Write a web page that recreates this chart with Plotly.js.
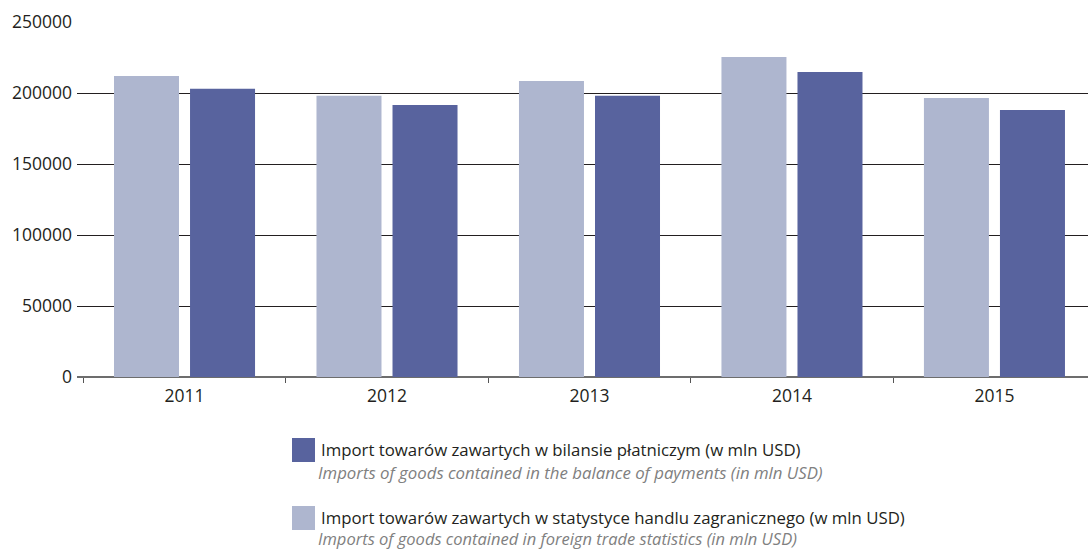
<!DOCTYPE html>
<html>
<head>
<meta charset="utf-8">
<script src="https://cdn.plot.ly/plotly-3.0.1.min.js"></script>
<style>html,body{margin:0;padding:0;background:#fff;}#chart{width:1088px;height:550px;}</style>
</head>
<body>
<div id="chart"></div>
<script>
const years = ['2011', '2012', '2013', '2014', '2015'];
const tradeStats = [212000, 198000, 208500, 225400, 196500];
const balancePayments = [203000, 191600, 198000, 214800, 188100];
const yTicks = [0, 50000, 100000, 150000, 200000, 250000];
const seriesBalancePL = 'Import towarów zawartych w bilansie płatniczym (w mln USD)';
const seriesBalanceEN = 'Imports of goods contained in the balance of payments (in mln USD)';
const seriesTradePL = 'Import towarów zawartych w statystyce handlu zagranicznego (w mln USD)';
const seriesTradeEN = 'Imports of goods contained in foreign trade statistics (in mln USD)';

const lightColor = '#aeb6cf';
const darkColor = '#58639e';
const font = 'Open Sans, Noto Sans, sans-serif';

const traces = [
  {type: 'bar', x: years, y: tradeStats, name: seriesTradePL, marker: {color: lightColor}, showlegend: false},
  {type: 'bar', x: years, y: balancePayments, name: seriesBalancePL, marker: {color: darkColor}, showlegend: false}
];

const layout = {
  width: 1088, height: 550,
  margin: {l: 77, r: 0, t: 22, b: 173},
  paper_bgcolor: '#fff', plot_bgcolor: '#fff',
  barmode: 'group', bargap: 0.249, bargroupgap: 0.145,
  font: {family: font, size: 17.5, color: '#231f20'},
  xaxis: {
    type: 'category', range: [-0.531, 4.462],
    tickson: 'boundaries', ticks: 'outside', ticklen: 5, tickcolor: '#555', tickwidth: 1,
    ticklabelstandoff: 6,
    showgrid: false, showline: false, zeroline: false,
    tickfont: {family: font, size: 17.5, color: '#231f20'}
  },
  yaxis: {
    range: [0, 250000], tickvals: yTicks, ticktext: yTicks.map(String),
    showgrid: true, gridcolor: '#231f20', gridwidth: 1,
    zeroline: true, zerolinecolor: '#6d6d6d', zerolinewidth: 1.5,
    showline: false, ticks: '', ticklabelstandoff: 4,
    tickfont: {family: font, size: 17.5, color: '#231f20'}
  },
  shapes: [
    {type: 'line', xref: 'paper', yref: 'y', x0: 0, x1: 0, y0: 0, y1: 0,
     ysizemode: 'pixel', yanchor: 0, line: {color: '#555', width: 1}},
    {type: 'rect', xref: 'paper', yref: 'paper', xsizemode: 'pixel', ysizemode: 'pixel',
     xanchor: 0, yanchor: 0, x0: 215, x1: 238, y0: -61, y1: -85,
     fillcolor: darkColor, line: {width: 0}},
    {type: 'rect', xref: 'paper', yref: 'paper', xsizemode: 'pixel', ysizemode: 'pixel',
     xanchor: 0, yanchor: 0, x0: 215, x1: 238, y0: -129, y1: -153,
     fillcolor: lightColor, line: {width: 0}}
  ],
  annotations: [
    {xref: 'paper', yref: 'paper', x: 0, y: 0, xshift: 242, yshift: -72, xanchor: 'left', yanchor: 'middle',
     showarrow: false, text: seriesBalancePL, font: {family: font, size: 16.8, color: '#231f20'}},
    {xref: 'paper', yref: 'paper', x: 0, y: 0, xshift: 239, yshift: -95, xanchor: 'left', yanchor: 'middle',
     showarrow: false, text: '<i>' + seriesBalanceEN + '</i>', font: {family: font, size: 16.8, color: '#808080'}},
    {xref: 'paper', yref: 'paper', x: 0, y: 0, xshift: 242, yshift: -140, xanchor: 'left', yanchor: 'middle',
     showarrow: false, text: seriesTradePL, font: {family: font, size: 16.8, color: '#231f20'}},
    {xref: 'paper', yref: 'paper', x: 0, y: 0, xshift: 239, yshift: -161, xanchor: 'left', yanchor: 'middle',
     showarrow: false, text: '<i>' + seriesTradeEN + '</i>', font: {family: font, size: 16.5, color: '#808080'}}
  ]
};

Plotly.newPlot('chart', traces, layout, {displayModeBar: false, staticPlot: true});
</script>
</body>
</html>
